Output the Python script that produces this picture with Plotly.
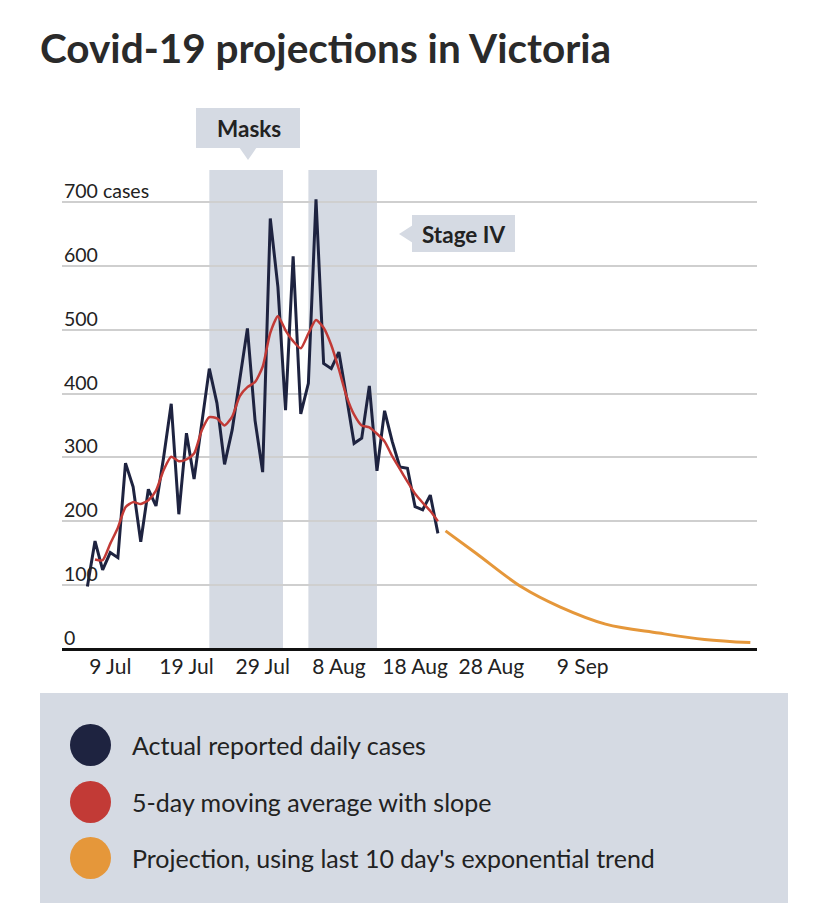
import plotly.graph_objects as go
import pandas as pd

# ---------------- data ----------------
TITLE = "Covid-19 projections in Victoria"

actual_start = "2020-07-06"
actual_cases = [98, 169, 124, 151, 143, 291, 254, 168, 250, 224, 300, 384, 211, 338, 266,
                352, 439, 385, 289, 343, 420, 502, 358, 277, 674, 567, 374, 615, 368, 416,
                704, 447, 439, 465, 395, 322, 330, 412, 279, 373, 325, 285, 283, 223, 218,
                241, 181]

avg_start = "2020-07-07"
moving_avg = [140, 139, 165, 190, 222, 230, 227, 233, 248, 280, 301, 294, 297, 306, 342,
              363, 361, 350, 364, 396, 410, 418, 442, 495, 521, 499, 482, 471, 494, 515,
              503, 476, 438, 396, 367, 350, 347, 337, 325, 302, 282, 262, 243, 229, 216, 200]

proj_dates = ["2020-08-22", "2020-08-26", "2020-09-01", "2020-09-06", "2020-09-12",
              "2020-09-19", "2020-09-25", "2020-10-01"]
proj_values = [185, 150, 97, 66, 39, 25, 15, 10]

tick_dates = ["2020-07-09", "2020-07-19", "2020-07-29", "2020-08-08", "2020-08-18",
              "2020-08-28", "2020-09-09"]
tick_labels = ["9 Jul", "19 Jul", "29 Jul", "8 Aug", "18 Aug", "28 Aug", "9 Sep"]

y_ticks = [0, 100, 200, 300, 400, 500, 600, 700]
y_labels = ["0", "100", "200", "300", "400", "500", "600", "700 cases"]

band_starts = ["2020-07-22", "2020-08-04"]
band_ends = ["2020-07-31 16:00", "2020-08-13"]

legend_labels = ["Actual reported daily cases", "5-day moving average with slope",
                 "Projection, using last 10 day's exponential trend"]

# ---------------- style ----------------
NAVY = "#1e2340"
RED = "#c23a36"
ORANGE = "#e5973a"
BAND = "#d5dae3"
TEXT = "#222222"
FONT = "Lato"

OFF = 8  # page body margin
W, H = 820, 914
# plot area in page pixel coordinates
L, R, T, B = 62, 757, 170, 649


def px(x):
    return (x - L) / (R - L)


def py(y):
    return (B - y) / (B - T)


actual_dates = pd.date_range(actual_start, periods=len(actual_cases))
avg_dates = pd.date_range(avg_start, periods=len(moving_avg))

fig = go.Figure()
fig.add_trace(go.Scatter(x=actual_dates, y=actual_cases, mode="lines",
                         line=dict(color=NAVY, width=3), name=legend_labels[0]))
fig.add_trace(go.Scatter(x=avg_dates, y=moving_avg, mode="lines",
                         line=dict(color=RED, width=2.5, shape="spline", smoothing=0.6),
                         name=legend_labels[1]))
fig.add_trace(go.Scatter(x=pd.to_datetime(proj_dates), y=proj_values, mode="lines",
                         line=dict(color=ORANGE, width=3, shape="spline"),
                         name=legend_labels[2]))

shapes = []
for s, e in zip(band_starts, band_ends):
    shapes.append(dict(type="rect", xref="x", yref="paper", x0=s, x1=e, y0=0, y1=1,
                       fillcolor=BAND, line=dict(width=0), layer="below"))

# Masks callout
shapes.append(dict(type="rect", xref="paper", yref="paper", x0=px(196), x1=px(300),
                   y0=py(148), y1=py(108), fillcolor=BAND, line=dict(width=0)))
shapes.append(dict(type="path", xref="paper", yref="paper",
                   path=f"M {px(239)} {py(147)} L {px(257)} {py(147)} L {px(248)} {py(160)} Z",
                   fillcolor=BAND, line=dict(width=0)))
# Stage IV callout
shapes.append(dict(type="rect", xref="paper", yref="paper", x0=px(412), x1=px(515),
                   y0=py(252), y1=py(215), fillcolor=BAND, line=dict(width=0)))
shapes.append(dict(type="path", xref="paper", yref="paper",
                   path=f"M {px(413)} {py(225)} L {px(413)} {py(243)} L {px(399)} {py(234)} Z",
                   fillcolor=BAND, line=dict(width=0)))

# legend panel
shapes.append(dict(type="rect", xref="paper", yref="paper", x0=px(40), x1=px(788),
                   y0=py(903), y1=py(693), fillcolor=BAND, line=dict(width=0)))
legend_colors = [NAVY, RED, ORANGE]
legend_y = [745, 802, 858]
for c, yy in zip(legend_colors, legend_y):
    shapes.append(dict(type="circle", xref="paper", yref="paper",
                       x0=px(70), x1=px(111), y0=py(yy + 21), y1=py(yy - 21),
                       fillcolor=c, line=dict(width=0)))

annotations = []
annotations.append(dict(text=f"<b>{TITLE}</b>", xref="paper", yref="paper",
                        x=px(38), y=py(47), xanchor="left", yanchor="middle",
                        showarrow=False, font=dict(family=FONT, size=40.5, color="#2a2a2a")))
annotations.append(dict(text="<b>Masks</b>", xref="paper", yref="paper",
                        x=px(249), y=py(128), xanchor="center", yanchor="middle",
                        showarrow=False, font=dict(family=FONT, size=22.5, color=TEXT)))
annotations.append(dict(text="<b>Stage IV</b>", xref="paper", yref="paper",
                        x=px(463), y=py(234), xanchor="center", yanchor="middle",
                        showarrow=False, font=dict(family=FONT, size=22.5, color=TEXT)))
for v, lab in zip(y_ticks, y_labels):
    annotations.append(dict(text=lab, xref="paper", yref="y", x=0, y=v,
                            xanchor="left", yanchor="bottom", yshift=-2,
                            showarrow=False, font=dict(family=FONT, size=19.5, color=TEXT)))
for yy, lab in zip(legend_y, legend_labels):
    annotations.append(dict(text=lab, xref="paper", yref="paper", x=px(130), y=py(yy),
                            xanchor="left", yanchor="middle", showarrow=False,
                            font=dict(family=FONT, size=25, color=TEXT)))

fig.update_layout(
    width=W, height=H,
    margin=dict(l=L - OFF, r=W - (R - OFF), t=T - OFF, b=H - (B - OFF)),
    paper_bgcolor="white", plot_bgcolor="white",
    showlegend=False,
    font=dict(family=FONT, color=TEXT),
    shapes=shapes,
    annotations=annotations,
    xaxis=dict(type="date", range=["2020-07-02 16:00", "2020-10-01 21:00"],
               tickvals=pd.to_datetime(tick_dates), ticktext=tick_labels,
               tickfont=dict(family=FONT, size=21, color=TEXT),
               ticklabelstandoff=3,
               showgrid=False, zeroline=False, showline=False, ticks="",
               fixedrange=True),
    yaxis=dict(range=[0, 750], tickvals=y_ticks, showticklabels=False,
               showgrid=True, gridcolor="#cfcfcf", gridwidth=2,
               zeroline=True, zerolinecolor="#111111", zerolinewidth=3,
               showline=False, ticks="", fixedrange=True),
)

fig.write_html("out.html")
